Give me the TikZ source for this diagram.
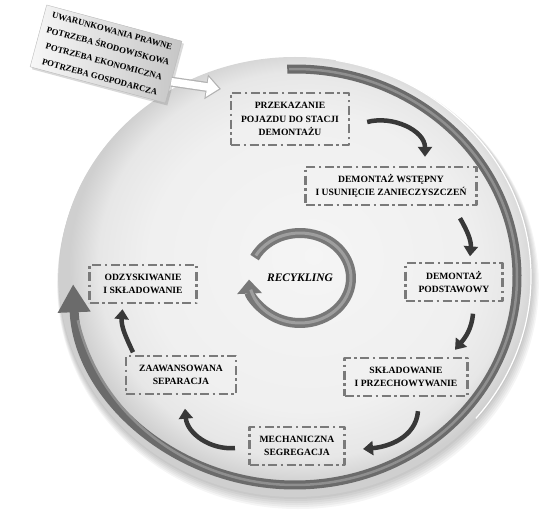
\documentclass[tikz,border=0pt]{standalone}
\usepackage{fontspec}
\setmainfont{Liberation Serif}
\usetikzlibrary{arrows.meta,shadows}

\definecolor{rimgray}{gray}{0.42}
\definecolor{rimlight}{gray}{0.56}
\definecolor{boxgray}{gray}{0.48}
\definecolor{flowgray}{gray}{0.22}
\definecolor{ringgray}{gray}{0.47}
\definecolor{ringlight}{gray}{0.62}
\pgfdeclareradialshading{discglow}{\pgfpoint{2bp}{2.5bp}}{color(0bp)=(gray!8); color(17bp)=(gray!12); color(22bp)=(gray!19); color(25bp)=(gray!38); color(50bp)=(gray!38)}

\begin{document}
\begin{tikzpicture}
[ x=1pt, y=1pt, line join=round
, stage/.style={rectangle, draw=boxgray, line width=2.4pt, dash pattern=on 9pt off 3.5pt on 2.5pt off 3.5pt, inner xsep=10pt, minimum height=38pt, align=center, font=\fontsize{9.6}{13.5}\selectfont\bfseries}
, drivers/.style={rectangle, rotate=-15, minimum width=140pt, minimum height=64pt, inner sep=2pt, left color=gray!6, right color=gray!45, draw=gray!55, line width=.4pt, align=center, font=\fontsize{8.8}{16}\selectfont\bfseries, drop shadow={opacity=.3, shadow xshift=2pt, shadow yshift=-2.5pt}}
, flow/.style={draw=flowgray, line width=4.5pt, -{Triangle[width=14pt,length=10pt]}}
, fatrim/.style={draw=gray!60, line width=10pt, -{Triangle[width=24pt,length=15pt]}}
, fatcore/.style={draw=white, line width=7.5pt, shorten >=2pt, -{Triangle[width=19.5pt,length=12pt]}}
, ring/.style={draw=ringgray, line width=10pt, -{Triangle[width=24pt,length=14pt]}}
]
\useasboundingbox (0,0) rectangle (553,-513);
% disc with soft shadow
\foreach \s in {1,...,6}
  \fill[black, opacity=.04] (295+\s*.5,-277-\s*1.2) ellipse [x radius=236+\s*.8, y radius=220+\s*.8];
\shade[shading=discglow] (295,-277) ellipse [x radius=236, y radius=220];
\draw[white, line width=1.2pt] (295,-277) ++(80:236 and 220) arc[start angle=80, end angle=-40, x radius=236, y radius=220];
% outer cycle
\draw[rimgray, line width=9pt, -{Triangle[width=31pt,length=28pt]}] (295,-277) ++(92:222 and 208) arc[start angle=92, end angle=-178, x radius=222, y radius=208];
\draw[rimlight, line width=2.5pt] (295,-277) ++(91.5:222 and 208) arc[start angle=91.5, end angle=-168, x radius=222, y radius=208];
% driving needs
\node (needs) [drivers] at (106,-54) {UWARUNKOWANIA PRAWNE\\POTRZEBA ŚRODOWISKOWA\\POTRZEBA EKONOMICZNA\\POTRZEBA GOSPODARCZA};
\coordinate (entry) at (221,-89);
\draw[fatrim] (needs.-8) -- (entry);
\draw[fatcore] (needs.-8) -- (entry);
% stages
\node (handover) [stage, minimum height=52pt] at (290,-119) {PRZEKAZANIE\\POJAZDU DO STACJI\\DEMONTAŻU};
\node (predis) [stage] at (391,-186) {DEMONTAŻ WSTĘPNY\\I USUNIĘCIE ZANIECZYSZCZEŃ};
\node (maindis) [stage, minimum width=97pt] at (454,-282) {DEMONTAŻ\\PODSTAWOWY};
\node (storage) [stage] at (406,-377) {SKŁADOWANIE\\I PRZECHOWYWANIE};
\node (mech) [stage] at (297,-446) {MECHANICZNA\\SEGREGACJA};
\node (advsep) [stage, minimum width=110pt] at (181,-375) {ZAAWANSOWANA\\SEPARACJA};
\node (recovery) [stage, minimum width=107pt] at (143,-284) {ODZYSKIWANIE\\I SKŁADOWANIE};
\draw[flow] ([shift={(17,-3)}]handover.east) to[out=15,in=90] ([shift={(34,9)}]predis.north);
\draw[flow] ([shift={(69,-12)}]predis.south) to[out=-60,in=85] ([shift={(16,5.5)}]maindis.north);
\draw[flow] ([shift={(19,-11.5)}]maindis.south) to[out=-95,in=50] ([shift={(49,7)}]storage.north);
\draw[flow] ([shift={(12,-14)}]storage.south) to[out=-95,in=5] ([shift={(17.5,-3)}]mech.east);
\draw[flow] ([shift={(-13.5,-2)}]mech.west) to[out=185,in=-85] ([shift={(4,-13.5)}]advsep.south);
\draw[flow] ([shift={(-48,2.5)}]advsep.north) to[out=115,in=-95] ([shift={(-20.5,-5)}]recovery.south);
% centre
\node (recykling) [font=\fontsize{11.5}{13}\selectfont\bfseries\itshape] at (300,-278) {RECYKLING};
\draw[ring] ([shift={(153:51 and 45)}]recykling.center) arc[start angle=153, end angle=-178, x radius=51, y radius=45];
\draw[ringlight, line width=3pt] ([shift={(150:51 and 45)}]recykling.center) arc[start angle=150, end angle=-165, x radius=51, y radius=45];
\end{tikzpicture}
\end{document}
